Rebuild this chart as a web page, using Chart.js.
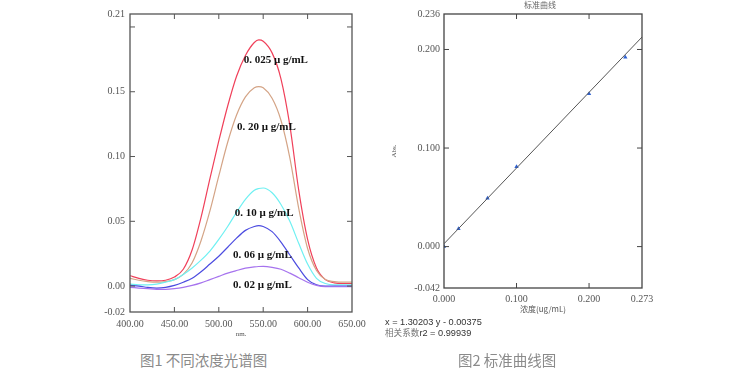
<!DOCTYPE html>
<html>
<head>
<meta charset="utf-8">
<script src="https://cdn.jsdelivr.net/npm/chart.js@4/dist/chart.umd.min.js"></script>
<style>
  body { margin: 0; background: #fff; width: 756px; height: 375px; position: relative; overflow: hidden; }
  .box { position: absolute; }
  .txt { position: absolute; white-space: nowrap; }
  .cap { font-family: "Noto Sans CJK SC", sans-serif; font-size: 14.5px; color: #8a8a8a; line-height: 20px; }
  .eq { font-family: "Liberation Sans", sans-serif; font-size: 9.2px; color: #333; line-height: 10px; }
  .eq span { font-family: "Noto Sans CJK SC", serif; color: #777; font-size: 8.6px; }
</style>
</head>
<body>
<div class="box" style="left:0;top:0;width:380px;height:345px"><canvas id="spectrumChart"></canvas></div>
<div class="box" style="left:380px;top:0;width:376px;height:345px"><canvas id="curveChart"></canvas></div>
<div class="txt" style="left:524px;top:-1px;font-family:'Noto Sans CJK SC';font-size:8px;color:#666">标准曲线</div>
<div class="txt eq" style="left:385px;top:317px">x = 1.30203 y - 0.00375</div>
<div class="txt eq" style="left:385px;top:327px"><span>相关系数</span>r2 = 0.99939</div>
<div class="txt cap" style="left:140px;top:350px">图1 不同浓度光谱图</div>
<div class="txt cap" style="left:458px;top:350px">图2 标准曲线图</div>
<script>
// spectra (absorbance vs wavelength, nm)
const wavelengths = [400, 410, 420, 430, 440, 450, 460, 470, 480, 490, 500, 510, 520, 530, 540, 545, 550, 560, 570, 580, 590, 600, 610, 620, 630, 640, 650];
const absRed    = [0.008, 0.006, 0.0045, 0.004, 0.0045, 0.007, 0.013, 0.028, 0.053, 0.083, 0.112, 0.139, 0.162, 0.178, 0.188, 0.190, 0.189, 0.180, 0.160, 0.124, 0.074, 0.036, 0.014, 0.005, 0.0025, 0.002, 0.002];
const absTan    = [0.006, 0.0045, 0.0035, 0.003, 0.0035, 0.005, 0.009, 0.018, 0.035, 0.058, 0.085, 0.111, 0.132, 0.146, 0.153, 0.154, 0.153, 0.145, 0.128, 0.099, 0.060, 0.029, 0.012, 0.005, 0.0035, 0.003, 0.003];
const absCyan   = [0.0015, 0.001, 0.001, 0.0015, 0.003, 0.005, 0.009, 0.014, 0.020, 0.027, 0.036, 0.046, 0.057, 0.067, 0.074, 0.0753, 0.0757, 0.072, 0.063, 0.050, 0.033, 0.017, 0.006, 0.002, 0.001, 0.001, 0.001];
const absBlue   = [0.0005, 0, -0.001, -0.0015, -0.001, 0.0005, 0.003, 0.006, 0.011, 0.017, 0.023, 0.030, 0.037, 0.043, 0.046, 0.0467, 0.046, 0.042, 0.034, 0.024, 0.014, 0.005, 0.001, 0, 0, 0, 0];
const absPurple = [-0.001, -0.0015, -0.002, -0.0025, -0.0025, -0.002, -0.001, 0.0005, 0.0025, 0.005, 0.0075, 0.010, 0.012, 0.0138, 0.0148, 0.0151, 0.0152, 0.0145, 0.013, 0.010, 0.0065, 0.003, 0.0005, -0.0005, -0.0005, -0.0005, -0.0005];
const spectrumLabels = ['0. 025 μ g/mL', '0. 20 μ g/mL', '0. 10 μ g/mL', '0. 06 μ g/mL', '0. 02 μ g/mL'];
const spectrumLabelAt = [[528, 0.174], [520.5, 0.123], [518, 0.056], [516, 0.024], [516, 0.0008]];
const spectrumYTicks = [-0.02, 0, 0.05, 0.10, 0.15, 0.21];
const spectrumXTicks = [400, 450, 500, 550, 600, 650];

// standard curve
const stdConc = [0, 0.02, 0.06, 0.10, 0.20, 0.25];
const stdAbs  = [0.000, 0.018, 0.049, 0.081, 0.155, 0.192];
const fitConc = [0, 0.273];
const fitAbs  = [0.0029, 0.2126];
const curveYTicks = [-0.042, 0, 0.1, 0.2, 0.236];
const curveXTicks = [0, 0.1, 0.2, 0.273];

Chart.defaults.font.family = '"Liberation Serif", serif';
Chart.defaults.font.size = 10;
Chart.defaults.color = '#555';
Chart.defaults.animation = false;

const pairs = (xs, ys) => xs.map((x, i) => ({ x: x, y: ys[i] }));
const fixedTicks = vals => scale => { scale.ticks = vals.map(v => ({ value: v })); };
const noGrid = { display: false, drawTicks: false, tickLength: 0 };

// frame with inward tick marks on all four sides
function framePlugin(xInner, yInner, color) {
  return {
    id: 'frame',
    afterDatasetsDraw(chart) {
      const { ctx, chartArea: a, scales } = chart;
      ctx.save();
      ctx.strokeStyle = color;
      ctx.lineWidth = 1.3;
      ctx.strokeRect(a.left, a.top, a.right - a.left, a.bottom - a.top);
      ctx.lineWidth = 1;
      ctx.beginPath();
      xInner.forEach(v => {
        const px = scales.x.getPixelForValue(v);
        ctx.moveTo(px, a.top); ctx.lineTo(px, a.top + 5);
        ctx.moveTo(px, a.bottom); ctx.lineTo(px, a.bottom - 5);
      });
      yInner.forEach(v => {
        const py = scales.y.getPixelForValue(v);
        ctx.moveTo(a.left, py); ctx.lineTo(a.left + 5, py);
        ctx.moveTo(a.right, py); ctx.lineTo(a.right - 5, py);
      });
      ctx.stroke();
      ctx.restore();
    }
  };
}

const curveLabels = {
  id: 'curveLabels',
  afterDatasetsDraw(chart) {
    const { ctx, scales } = chart;
    ctx.save();
    ctx.font = 'bold 11px "Liberation Serif", serif';
    ctx.fillStyle = '#111';
    ctx.textBaseline = 'middle';
    spectrumLabels.forEach((t, i) => {
      const [wx, wy] = spectrumLabelAt[i];
      ctx.fillText(t, scales.x.getPixelForValue(wx), scales.y.getPixelForValue(wy));
    });
    ctx.restore();
  }
};

function lineSet(values, color) {
  return {
    data: pairs(wavelengths, values),
    borderColor: color,
    borderWidth: 1.2,
    pointRadius: 0,
    tension: 0.4,
    cubicInterpolationMode: 'monotone',
    fill: false
  };
}

function initSpectrumChart() {
  const ctx = document.getElementById('spectrumChart');
  new Chart(ctx, {
    type: 'line',
    data: {
      datasets: [
        lineSet(absPurple, '#a673ee'),
        lineSet(absBlue, '#4c4ce0'),
        lineSet(absCyan, '#6ff0f2'),
        lineSet(absTan, '#d4a486'),
        lineSet(absRed, '#f0405a')
      ]
    },
    options: {
      responsive: true,
      maintainAspectRatio: false,
      layout: { padding: { left: 90, right: 28, top: 14, bottom: 7 } },
      plugins: { legend: { display: false }, tooltip: { enabled: false } },
      scales: {
        x: {
          type: 'linear', min: 400, max: 650,
          afterBuildTicks: fixedTicks(spectrumXTicks),
          afterFit: s => { s.height = 26; },
          grid: noGrid, border: { display: false },
          ticks: { padding: 6, maxRotation: 0, callback: v => v.toFixed(2) },
          title: { display: true, text: 'nm.', font: { size: 7 }, padding: { top: 0, bottom: 0 } }
        },
        y: {
          type: 'linear', min: -0.02, max: 0.21,
          afterBuildTicks: fixedTicks(spectrumYTicks),
          afterFit: s => { s.width = 40; },
          grid: noGrid, border: { display: false },
          ticks: { padding: 5, callback: v => v.toFixed(2) }
        }
      }
    },
    plugins: [framePlugin([450, 500, 550, 600], [0, 0.05, 0.10, 0.15, 0.20], '#555'), curveLabels]
  });
}

function initCurveChart() {
  const ctx = document.getElementById('curveChart');
  new Chart(ctx, {
    type: 'scatter',
    data: {
      datasets: [
        {
          type: 'line',
          data: pairs(fitConc, fitAbs),
          borderColor: '#555',
          borderWidth: 1,
          pointRadius: 0
        },
        {
          data: pairs(stdConc, stdAbs),
          pointStyle: 'triangle',
          pointRadius: 2.5,
          backgroundColor: '#2d60d2',
          borderColor: '#2d60d2',
          borderWidth: 0
        }
      ]
    },
    options: {
      responsive: true,
      maintainAspectRatio: false,
      layout: { padding: { left: 10, right: 114, top: 14, bottom: 31 } },
      plugins: { legend: { display: false }, tooltip: { enabled: false } },
      scales: {
        x: {
          type: 'linear', min: 0, max: 0.273,
          afterBuildTicks: fixedTicks(curveXTicks),
          afterFit: s => { s.height = 26; },
          grid: noGrid, border: { display: false },
          ticks: { padding: 5, maxRotation: 0, callback: v => v.toFixed(3) },
          title: { display: true, text: '浓度(ug/mL)', font: { size: 8, family: '"Noto Sans CJK SC", serif' }, padding: { top: 0, bottom: 0 } }
        },
        y: {
          type: 'linear', min: -0.042, max: 0.236,
          afterBuildTicks: fixedTicks(curveYTicks),
          afterFit: s => { s.width = 54; },
          grid: noGrid, border: { display: false },
          ticks: { padding: 4, callback: v => v.toFixed(3) },
          title: { display: true, text: 'Abs.', font: { size: 7 }, padding: 0 }
        }
      }
    },
    plugins: [framePlugin([0.1, 0.2], [0, 0.1, 0.2], '#444')]
  });
}

document.addEventListener('DOMContentLoaded', () => {
  initSpectrumChart();
  initCurveChart();
});
</script>
</body>
</html>
